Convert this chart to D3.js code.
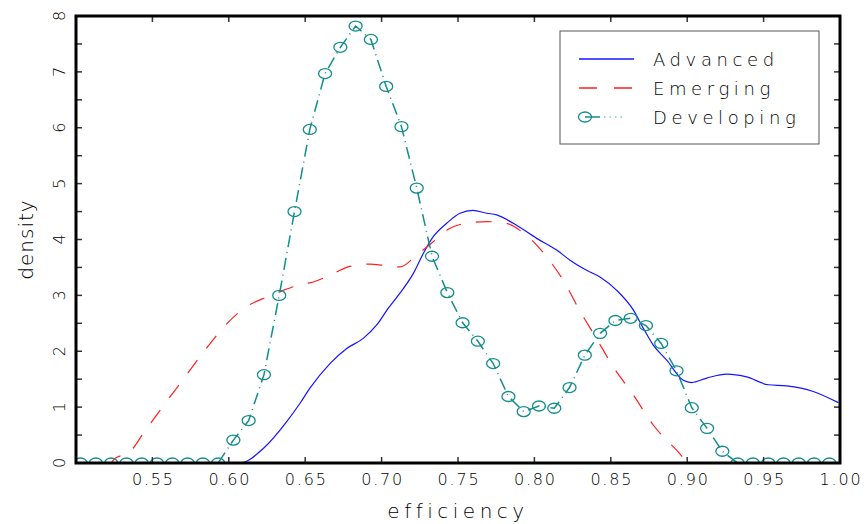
<!DOCTYPE html>
<html>
<head>
<meta charset="utf-8">
<script src="https://cdn.jsdelivr.net/npm/d3@7"></script>
<style>
  body { margin: 0; background: #fff; }
  text { font-family: "DejaVu Sans", sans-serif; font-weight: 200; fill: #000; }
</style>
</head>
<body>
<div id="chart"></div>
<script>
// kernel density estimates
const advancedX = [0.500, 0.6073, 0.6226, 0.6379, 0.6466, 0.6531, 0.6662, 0.6772, 0.688, 0.6968, 0.7044, 0.712, 0.7207, 0.7273, 0.7338, 0.7426, 0.7513, 0.7598, 0.7688, 0.7753, 0.7862, 0.8015, 0.8146, 0.8233, 0.8342, 0.8429, 0.8539, 0.8647, 0.8713, 0.8778, 0.8866, 0.8974, 0.9029, 0.9128, 0.9259, 0.9389, 0.9531, 0.9651, 0.9825, 0.9989];
const advancedY = [0, 0, 0.26, 0.74, 1.07, 1.34, 1.78, 2.05, 2.23, 2.47, 2.77, 3.04, 3.39, 3.75, 4.05, 4.29, 4.47, 4.52, 4.47, 4.44, 4.29, 4.02, 3.81, 3.63, 3.45, 3.33, 3.09, 2.74, 2.41, 2.11, 1.84, 1.48, 1.44, 1.52, 1.59, 1.54, 1.40, 1.38, 1.28, 1.08];

const emergingX = [0.500, 0.5223, 0.5255, 0.5353, 0.544, 0.5571, 0.5713, 0.5844, 0.5986, 0.6117, 0.6248, 0.6357, 0.6466, 0.6553, 0.6684, 0.6793, 0.6924, 0.7011, 0.712, 0.723, 0.7338, 0.7448, 0.7579, 0.7688, 0.7818, 0.7917, 0.8015, 0.808, 0.8189, 0.8298, 0.8408, 0.8516, 0.8647, 0.8778, 0.8931, 0.9018, 1.000];
const emergingY = [0, 0, 0.08, 0.2, 0.53, 1.02, 1.54, 2.02, 2.49, 2.80, 2.97, 3.09, 3.19, 3.24, 3.39, 3.52, 3.56, 3.54, 3.51, 3.72, 3.96, 4.20, 4.30, 4.32, 4.29, 4.14, 3.90, 3.69, 3.27, 2.72, 2.22, 1.72, 1.22, 0.68, 0.23, 0, 0];

const developingX = [0.503, 0.513, 0.523, 0.533, 0.543, 0.553, 0.563, 0.573, 0.583, 0.593, 0.603, 0.613, 0.623, 0.633, 0.643, 0.653, 0.663, 0.673, 0.683, 0.693, 0.703, 0.713, 0.723, 0.733, 0.743, 0.753, 0.763, 0.773, 0.783, 0.793, 0.803, 0.813, 0.823, 0.833, 0.843, 0.853, 0.863, 0.873, 0.883, 0.893, 0.903, 0.913, 0.923, 0.933, 0.943, 0.953, 0.963, 0.973, 0.983, 0.993];
const developingY = [0, 0, 0, 0, 0, 0, 0, 0, 0, 0, 0.41, 0.76, 1.58, 3.00, 4.50, 5.97, 6.97, 7.44, 7.82, 7.58, 6.74, 6.02, 4.92, 3.70, 3.05, 2.51, 2.18, 1.78, 1.19, 0.92, 1.02, 0.98, 1.35, 1.93, 2.32, 2.55, 2.59, 2.46, 2.14, 1.65, 0.99, 0.62, 0.21, 0, 0, 0, 0, 0, 0, 0];

const xTicks = [0.55, 0.60, 0.65, 0.70, 0.75, 0.80, 0.85, 0.90, 0.95, 1.00];
const yTicks = [0, 1, 2, 3, 4, 5, 6, 7, 8];
const yMinorTicks = [0.5, 1.5, 2.5, 3.5, 4.5, 5.5, 6.5, 7.5];
const seriesNames = ["Advanced", "Emerging", "Developing"];

function main() {

    const width = 866;
    const height = 524;
    const left = 76, right = 840, top = 16, bottom = 463;

    const svg = d3.select("#chart").append("svg")
        .attr("width", width)
        .attr("height", height)

    const x = d3.scaleLinear().domain([0.5, 1.0]).range([left, right])
    const y = d3.scaleLinear().domain([0, 8]).range([bottom, top])

    const blue = "#1414ff", red = "#ff2020", teal = "#138c8c";

    svg.append("clipPath").attr("id", "plot")
        .append("rect")
        .attr("x", left).attr("y", top)
        .attr("width", right - left).attr("height", bottom - top)

    const plot = svg.append("g").attr("clip-path", "url(#plot)")

    const smooth = d3.line().curve(d3.curveMonotoneX)
        .x(d => x(d[0])).y(d => y(d[1]))
    const straight = d3.line()
        .x(d => x(d[0])).y(d => y(d[1]))

    plot.append("path")
        .datum(d3.zip(advancedX, advancedY))
        .attr("d", smooth)
        .attr("fill", "none")
        .attr("stroke", blue)
        .attr("stroke-width", 1.2)

    plot.append("path")
        .datum(d3.zip(emergingX, emergingY))
        .attr("d", smooth)
        .attr("fill", "none")
        .attr("stroke", red)
        .attr("stroke-width", 1.2)
        .attr("stroke-dasharray", "16,15")

    const dev = d3.zip(developingX, developingY);
    plot.append("path")
        .datum(dev)
        .attr("d", straight)
        .attr("fill", "none")
        .attr("stroke", teal)
        .attr("stroke-width", 1.5)
        .attr("stroke-dasharray", "12,5,1,5")

    plot.selectAll("ellipse")
        .data(dev)
        .enter().append("ellipse")
        .attr("cx", d => x(d[0]))
        .attr("cy", d => y(d[1]))
        .attr("rx", 6.5)
        .attr("ry", 5)
        .attr("fill", "none")
        .attr("stroke", teal)
        .attr("stroke-width", 1.3)

    // inward ticks on all four sides
    const ticks = svg.append("g").attr("stroke", "#333").attr("stroke-width", 1.5)
    xTicks.filter(d => d < 1).forEach(d => {
        ticks.append("line").attr("x1", x(d)).attr("x2", x(d)).attr("y1", bottom).attr("y2", bottom - 6)
        ticks.append("line").attr("x1", x(d)).attr("x2", x(d)).attr("y1", top).attr("y2", top + 6)
    })
    yTicks.concat(yMinorTicks).filter(d => d > 0 && d < 8).forEach(d => {
        ticks.append("line").attr("x1", left).attr("x2", left + 6).attr("y1", y(d)).attr("y2", y(d))
        ticks.append("line").attr("x1", right).attr("x2", right - 6).attr("y1", y(d)).attr("y2", y(d))
    })

    svg.append("rect")
        .attr("x", left).attr("y", top)
        .attr("width", right - left).attr("height", bottom - top)
        .attr("fill", "none")
        .attr("stroke", "#000")
        .attr("stroke-width", 3)

    svg.selectAll(".xlabel")
        .data(xTicks)
        .enter().append("text")
        .attr("class", "xlabel")
        .attr("x", d => x(d) + 1)
        .attr("y", 485)
        .attr("text-anchor", "middle")
        .style("font-size", "16px")
        .style("letter-spacing", "1.8px")
        .text(d => d.toFixed(2))

    svg.selectAll(".ylabel")
        .data(yTicks)
        .enter().append("text")
        .attr("class", "ylabel")
        .attr("transform", d => "translate(65," + y(d) + ") rotate(-90)")
        .attr("text-anchor", "middle")
        .style("font-size", "16px")
        .text(d => d)

    svg.append("text")
        .attr("x", (left + right) / 2)
        .attr("y", 518)
        .attr("text-anchor", "middle")
        .style("font-size", "20px")
        .style("letter-spacing", "4.5px")
        .text("efficiency")

    svg.append("text")
        .attr("transform", "translate(33," + ((top + bottom) / 2) + ") rotate(-90)")
        .attr("text-anchor", "middle")
        .style("font-size", "20px")
        .style("letter-spacing", "1px")
        .text("density")

    // legend
    const legend = svg.append("g")
    legend.append("rect")
        .attr("x", 560).attr("y", 31)
        .attr("width", 259).attr("height", 113)
        .attr("fill", "#fff")
        .attr("stroke", "#555")
        .attr("stroke-width", 1)

    const rowY = [59, 88, 117];
    legend.append("line").attr("x1", 579).attr("x2", 634).attr("y1", rowY[0]).attr("y2", rowY[0])
        .attr("stroke", blue).attr("stroke-width", 1.5)
    legend.append("line").attr("x1", 579).attr("x2", 634).attr("y1", rowY[1]).attr("y2", rowY[1])
        .attr("stroke", red).attr("stroke-width", 1.3).attr("stroke-dasharray", "18,17")
    legend.append("ellipse").attr("cx", 585).attr("cy", rowY[2]).attr("rx", 6.5).attr("ry", 5)
        .attr("fill", "none").attr("stroke", teal).attr("stroke-width", 1.3)
    legend.append("line").attr("x1", 585).attr("x2", 600).attr("y1", rowY[2]).attr("y2", rowY[2])
        .attr("stroke", teal).attr("stroke-width", 1.5)
    legend.append("line").attr("x1", 604).attr("x2", 626).attr("y1", rowY[2]).attr("y2", rowY[2])
        .attr("stroke", teal).attr("stroke-width", 1.5).attr("stroke-dasharray", "1.5,4")
        .attr("opacity", 0.5)

    legend.selectAll(".legtext")
        .data(seriesNames)
        .enter().append("text")
        .attr("class", "legtext")
        .attr("x", 653)
        .attr("y", (d, i) => rowY[i] + 7)
        .style("font-size", "18px")
        .style("letter-spacing", "4.6px")
        .text(d => d)
}
main();
</script>
</body>
</html>
